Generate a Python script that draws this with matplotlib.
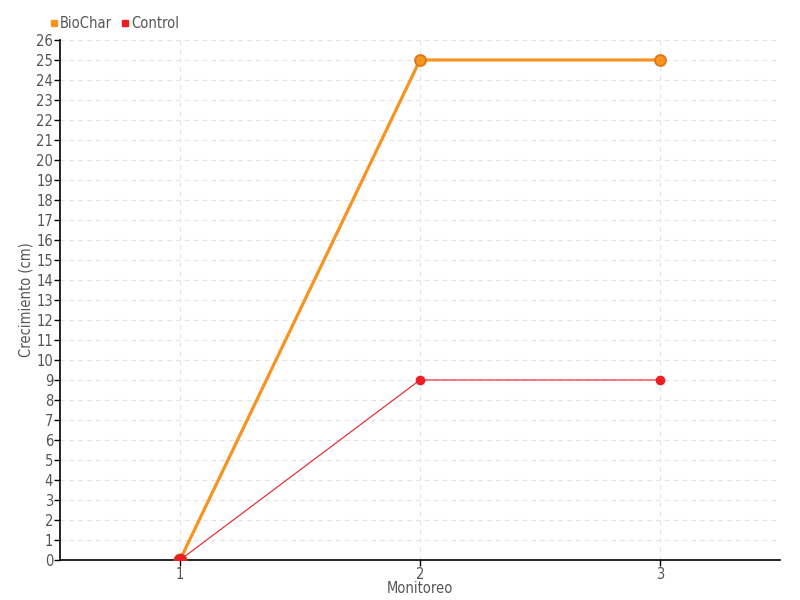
import matplotlib.pyplot as plt
from matplotlib import font_manager
from matplotlib.lines import Line2D

monitoreo = [1, 2, 3]
biochar = [0, 25, 25]
control = [0, 9, 9]
y_ticks = list(range(0, 27))

names = {f.name for f in font_manager.fontManager.ttflist}
fam = 'Liberation Sans Narrow' if 'Liberation Sans Narrow' in names else 'DejaVu Sans'
plt.rcParams['font.family'] = [fam, 'DejaVu Sans']
plt.rcParams['font.stretch'] = 'condensed'

orange = '#f7931e'
red = '#ee1c25'
grey = '#555555'

fig = plt.figure(figsize=(8, 6), dpi=100)
ax = fig.add_axes([0.075, 0.0667, 0.9, 0.8667])

ax.plot(monitoreo, biochar, color=orange, lw=2.3, marker='o', ms=8,
        mfc=orange, mec='#d9771a', mew=1.2, zorder=3)
ax.plot(monitoreo, control, color=red, lw=0.8, marker='o', ms=6,
        mfc=red, mec=red, zorder=4)
ax.plot(monitoreo[:1], control[:1], 'o', color=red, ms=9, mec='#c8401a', mew=1, zorder=5)

ax.set_xlim(0.5, 3.5)
ax.set_ylim(0, 26)
ax.set_xticks(monitoreo)
ax.set_yticks(y_ticks)
ax.grid(True, color='#e3e3e3', ls=(0, (4, 4)), lw=0.8)
ax.set_axisbelow(True)
for s in ['top', 'right']:
    ax.spines[s].set_visible(False)
ax.spines['left'].set_linewidth(1.2)
ax.spines['bottom'].set_linewidth(1.2)
ax.tick_params(axis='both', length=4, width=1, colors='black', labelcolor=grey,
               labelsize=10.5, pad=1)

ax.set_ylabel('Crecimiento (cm)', color=grey, fontsize=10.5, labelpad=2)
ax.set_xlabel('Monitoreo', color=grey, fontsize=10.5, labelpad=-1)

handles = [Line2D([], [], ls='none', marker='s', ms=5, color=orange),
           Line2D([], [], ls='none', marker='s', ms=5, color=red)]
fig.legend(handles, ['BioChar', 'Control'], loc='upper left',
           bbox_to_anchor=(0.046, 0.995), ncol=2, frameon=False, fontsize=10.5,
           handlelength=0.5, handletextpad=0.2, columnspacing=0.6,
           labelcolor=grey)

fig.savefig('out.png')
